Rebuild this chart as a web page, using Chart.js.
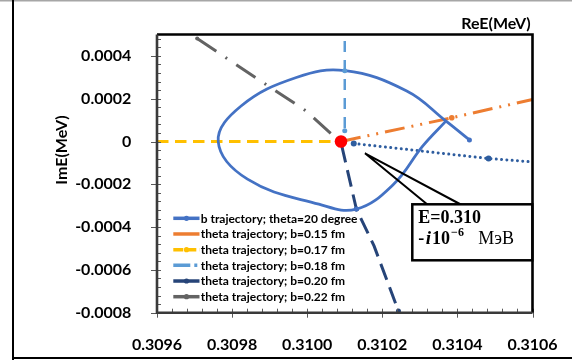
<!DOCTYPE html>
<html><head><meta charset="utf-8">
<script src="https://cdn.jsdelivr.net/npm/chart.js@4.4.0/dist/chart.umd.min.js"></script>
<style>html,body{margin:0;padding:0;background:#fff;}canvas{display:block;}</style>
</head><body>
<canvas id="c" width="572" height="360"></canvas>
<script>
// ---- axes ----
const xTicks = [0.3096, 0.3098, 0.3100, 0.3102, 0.3104, 0.3106];
const xTickLabels = ['0.3096', '0.3098', '0.3100', '0.3102', '0.3104', '0.3106'];
const yTicks = [-0.0008, -0.0006, -0.0004, -0.0002, 0, 0.0002, 0.0004];
const yTickLabels = ['-0.0008', '-0.0006', '-0.0004', '-0.0002', '0', '0.0002', '0.0004'];
const xMin = 0.3096, xMax = 0.3106, yMin = -0.0008, yMax = 0.0005, minorStep = 0.00004;

// ---- series ----
const seriesNames = [
  'b trajectory; theta=20 degree',
  'theta trajectory; b=0.15 fm',
  'theta trajectory; b=0.17 fm',
  'theta trajectory; b=0.18 fm',
  'theta trajectory; b=0.20 fm',
  'theta trajectory; b=0.22 fm'
];
const bTrajX = [0.310432, 0.310369, 0.310265, 0.310101, 0.309971, 0.309824, 0.309763, 0.309841, 0.310031, 0.310131, 0.31023, 0.310308, 0.31037];
const bTrajY = [0.0000075, 0.0000963, 0.000236, 0.000331, 0.000299, 0.000166, 0, -0.000176, -0.000293, -0.000316, -0.0002, -0.0000206, 0.0000963];
const b015X = [0.31009, 0.310385, 0.3106];
const b015Y = [0, 0.000111, 0.000196];
const b017X = [0.3096, 0.310074];
const b017Y = [0, 0];
const b018X = [0.3101, 0.3101, 0.3101];
const b018Y = [0.00047, 0.000331, 0.00005];
const b020X = [0.310092, 0.310131, 0.310178, 0.310243];
const b020Y = [-0.00002, -0.000316, -0.000488, -0.000792];
const b022X = [0.309707, 0.309889, 0.309997, 0.310075];
const b022Y = [0.000481, 0.000268, 0.000143, 0.0000187];
const dottedX = [0.310124, 0.310483, 0.3106];
const dottedY = [-0.0000093, -0.0000794, -0.0000953];
const resX = [0.31009];
const resY = [0];

const pts = (xs, ys) => xs.map((x, i) => ({x: x, y: ys[i]}));
const line = (label, xs, ys, color, width, dash, radii, extra) => Object.assign({
  label: label, data: pts(xs, ys), showLine: true, fill: false,
  borderColor: color, backgroundColor: color, borderWidth: width, borderDash: dash,
  pointRadius: radii, pointBackgroundColor: color, pointBorderWidth: 0, pointHoverRadius: 0,
  tension: 0
}, extra || {});

const datasets = [
  line('E', resX, resY, '#FF0000', 0, [], [6.3], {showLine: false, inLegend: false}),
  line(seriesNames[3], b018X, b018Y, '#5B9BD5', 2.5, [11, 8], [0, 2.5, 2.5], {inLegend: true, legendIdx: 3, legendDash: [17, 4, 3, 50], legendMarker: false}),
  line(seriesNames[0], bTrajX, bTrajY, '#4472C4', 2.8, [], bTrajX.map((v, i) => (i === 0 || i === 9) ? 2.5 : 0), {tension: 0.4, inLegend: true, legendIdx: 0, legendDash: [], legendMarker: true}),
  line(seriesNames[1], b015X, b015Y, '#ED7D31', 3, [20, 7, 2, 7, 2, 7], [0, 2.8, 0], {inLegend: true, legendIdx: 1, legendDash: [], legendMarker: false}),
  line(seriesNames[2], b017X, b017Y, '#FFC000', 3, [11.5, 6.5], [0, 0], {inLegend: true, legendIdx: 2, legendDash: [10, 3], legendMarker: true}),
  line(seriesNames[4], b020X, b020Y, '#264478', 3, [17, 8], [0, 2.5, 0, 2.5], {inLegend: true, legendIdx: 4, legendDash: [], legendMarker: true}),
  line(seriesNames[5], b022X, b022Y, '#636363', 3, [23, 11, 2, 11], [2, 0, 0, 0], {inLegend: true, legendIdx: 5, legendDash: [], legendMarker: true}),
  line('', dottedX, dottedY, '#2E5D9F', 3, [0.01, 5.3], [3, 3, 0], {borderCapStyle: 'round', inLegend: false})
];

const tickFont = {family: 'Lato', weight: 'bold', size: 16};

const deco = {
  id: 'deco',
  beforeDraw(chart) {
    const c = chart.ctx;
    c.save();
    c.fillStyle = '#fff'; c.fillRect(0, 0, chart.width, chart.height);
    c.fillStyle = '#a6a6a6'; c.fillRect(0, 0, 572, 1.5);
    c.fillStyle = '#000'; c.fillRect(12, 0, 2, 360); c.fillRect(12, 357, 560, 2);
    c.restore();
  },
  afterDraw(chart) {
    const c = chart.ctx, a = chart.chartArea, xs = chart.scales.x, ys = chart.scales.y;
    c.save();
    // ticks
    c.strokeStyle = '#595959'; c.lineWidth = 1;
    c.beginPath();
    for (let v = yMin; v <= yMax + 1e-12; v += minorStep) {
      const p = Math.round(ys.getPixelForValue(v)) + 0.5;
      c.moveTo(a.left, p); c.lineTo(a.left + 4, p);
    }
    yTicks.forEach(v => { const p = Math.round(ys.getPixelForValue(v)) + 0.5; c.moveTo(a.left - 6, p); c.lineTo(a.left, p); });
    for (let v = xMin; v <= xMax + 1e-12; v += minorStep) {
      const p = Math.round(xs.getPixelForValue(v)) + 0.5;
      c.moveTo(p, a.bottom); c.lineTo(p, a.bottom - 4);
    }
    xTicks.forEach(v => { const p = Math.round(xs.getPixelForValue(v)) + 0.5; c.moveTo(p, a.bottom); c.lineTo(p, a.bottom + 5); });
    c.stroke();
    // plot border
    c.lineWidth = 2.6;
    c.strokeStyle = '#000';
    c.beginPath(); c.moveTo(a.left, a.top); c.lineTo(a.right, a.top); c.lineTo(a.right, a.bottom); c.stroke();
    c.strokeStyle = '#3a3a3a';
    c.beginPath(); c.moveTo(a.left, a.top); c.lineTo(a.left, a.bottom); c.lineTo(a.right, a.bottom); c.stroke();
    // axis titles
    c.fillStyle = '#000';
    c.font = 'bold 16px Lato';
    c.textAlign = 'center'; c.textBaseline = 'middle';
    c.fillText('ReE(MeV)', 496, 24);
    c.save(); c.translate(61.7, 150); c.rotate(-Math.PI / 2); c.fillText('ImE(MeV)', 0, 0); c.restore();
    // legend
    const legendItems = chart.data.datasets.filter(d => d.inLegend).sort((p, q) => p.legendIdx - q.legendIdx);
    c.font = 'bold 12px Lato'; c.textAlign = 'left';
    legendItems.forEach((d, i) => {
      const y = 218.3 + i * 15.68;
      c.strokeStyle = d.borderColor; c.lineWidth = 3.5; c.setLineDash(d.legendDash); c.lineCap = 'butt';
      c.beginPath(); c.moveTo(173.3, y); c.lineTo(199.5, y); c.stroke();
      c.setLineDash([]);
      if (d.legendMarker) { c.fillStyle = d.borderColor; c.beginPath(); c.arc(186.5, y, 2.6, 0, Math.PI * 2); c.fill(); }
      c.fillStyle = '#000';
      c.fillText(d.label, 200.7, y + 0.5);
    });
    // callout
    c.setLineDash([]);
    c.strokeStyle = '#000'; c.lineWidth = 2;
    c.beginPath(); c.moveTo(428, 205); c.lineTo(365, 153.3); c.lineTo(461.7, 205); c.stroke();
    c.fillStyle = '#fff'; c.fillRect(412.3, 204.3, 120, 56);
    c.lineWidth = 2.5; c.strokeRect(412.3, 204.3, 120, 56);
    c.fillStyle = '#000'; c.textBaseline = 'alphabetic'; c.textAlign = 'left';
    c.font = 'bold 18px "Liberation Serif"';
    c.fillText('E=0.310', 418.3, 222.5);
    let x = 418.3;
    const seg = (t, f, y) => { c.font = f; c.fillText(t, x, y); x += c.measureText(t).width; };
    seg('-', 'bold 18px "Liberation Serif"', 243.5);
    x += 1.5;
    seg('i', 'italic bold 19px "Liberation Serif"', 243.5);
    x += 1;
    seg('10', 'bold 18px "Liberation Serif"', 243.5);
    x += 1;
    seg('\u22126', 'bold 12px "Liberation Serif"', 235.5);
    x = Math.max(x + 5, 478.3);
    seg('M\u044d\u0412', '18px "Liberation Serif"', 243.5);
    c.restore();
  }
};

new Chart(document.getElementById('c'), {
  type: 'scatter',
  data: {datasets: datasets},
  options: {
    responsive: false, animation: false, devicePixelRatio: 1,
    layout: {padding: {top: 34.5, right: 28.7, left: 0, bottom: 0}},
    plugins: {legend: {display: false}, tooltip: {enabled: false}, title: {display: false}},
    scales: {
      x: {
        type: 'linear', min: xMin, max: xMax,
        afterBuildTicks: s => { s.ticks = xTicks.map(v => ({value: v})); },
        afterFit: s => { s.height = 47.3; },
        ticks: {callback: (v, i) => xTickLabels[i], font: tickFont, color: '#000', padding: 14.4, maxRotation: 0, autoSkip: false},
        grid: {display: false}, border: {display: false}
      },
      y: {
        type: 'linear', min: yMin, max: yMax,
        afterBuildTicks: s => { s.ticks = yTicks.map(v => ({value: v})); },
        afterFit: s => { s.width = 157; },
        ticks: {callback: (v, i) => yTickLabels[i], font: tickFont, color: '#000', padding: 17.7, autoSkip: false},
        grid: {display: false}, border: {display: false}
      }
    }
  },
  plugins: [deco]
});
</script>
</body></html>
